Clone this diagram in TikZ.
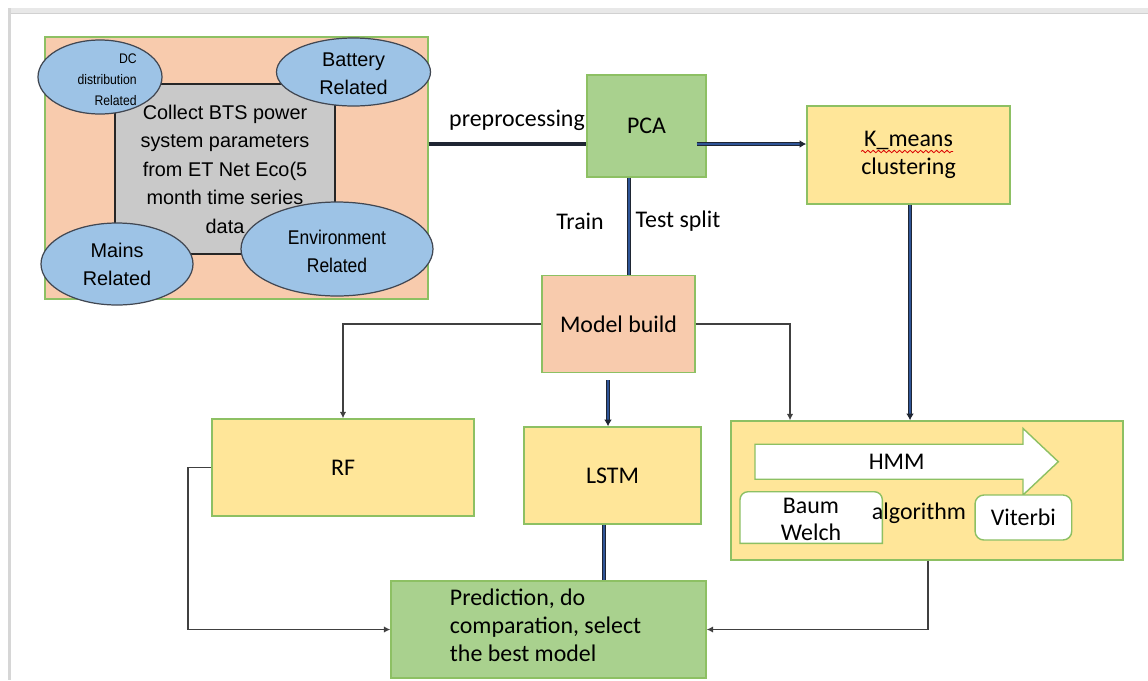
\documentclass[tikz,border=0pt]{standalone}
\usepackage{fontspec}
\setmainfont{Carlito}
\newfontfamily\arial{Liberation Sans}
\newfontfamily\arialn[FakeStretch=0.88]{Liberation Sans}
\usetikzlibrary{shapes.geometric,arrows.meta,calc,decorations.pathmorphing}
\def\pxu{0.02cm}

\definecolor{salmon}{HTML}{F8CBAD}
\definecolor{leaf}{HTML}{A9D18E}
\definecolor{sand}{HTML}{FFE699}
\definecolor{sky}{HTML}{9DC3E6}
\definecolor{edgegreen}{HTML}{8DC063}
\definecolor{stone}{HTML}{C9C9C9}
\definecolor{ink}{HTML}{1F2633}
\definecolor{navy}{HTML}{2F5597}

\tikzset{
  box/.style={draw=edgegreen, line width=0.8pt, inner sep=0pt, align=center,
    font=\fontsize{13.6}{16}\selectfont},
  size/.style n args={2}{minimum width=#1*\pxu, minimum height=#2*\pxu},
  bubble/.style={ellipse, draw=ink!85, fill=sky, line width=0.7pt, inner sep=0pt},
  bubble text/.style={inner sep=0pt, align=center, font=\arial\fontsize{11.3}{15.9}\selectfont},
  label text/.style={inner sep=0pt, font=\fontsize{13.6}{16}\selectfont},
  flowline/.style={draw=ink, double=navy, double distance=0.8pt, line width=0.7pt},
  darkline/.style={draw=ink, line width=2pt},
  wire/.style={draw=black!75, line width=0.8pt},
  tipsmall/.style={-{Latex[length=3.6pt,width=3.6pt]}},
  tipdark/.style={-{Latex[length=3.8pt,width=4.4pt]}},
}

\begin{document}
\begin{tikzpicture}[x=0.02cm, y=-0.02cm]
\useasboundingbox (0,0) rectangle (1148,680);
\fill[white] (0,0) rectangle (1148,680);

% page frame
\fill[black!9] (8,8) rectangle (1148,14);
\draw[black!18, line width=0.6pt] (8,13.5) -- (1148,13.5);
\fill[black!16] (8,8) rectangle (10.5,680);

% data source block
\node[box, fill=salmon, size={383}{262}] (src) at (236.5,168) {};
\node[draw=black!85, fill=stone, line width=0.8pt, inner sep=0pt, align=center,
      font=\arial\fontsize{11.3}{16.2}\selectfont, size={220}{170}] (collect) at (225,169)
      {Collect BTS power\\system parameters\\from ET Net Eco(5\\month time series\\data};
\node[bubble, size={124}{74}] (dc) at (100,77) {};
\node[inner sep=0pt, align=right, anchor=east, font=\arialn\fontsize{7.9}{11.9}\selectfont]
      (dctext) at (137,79.5) {DC\\distribution\\Related};
\node[bubble, size={154}{68}] (battery) at (353.5,72) {};
\node[bubble text] (batterytext) at (353.5,74) {Battery\\Related};
\node[bubble, size={152}{82}] (mains) at (117,264) {};
\node[bubble text] (mainstext) at (117,264.5) {Mains\\Related};
\node[bubble, size={192}{94}] (env) at (337,249) {};
\node[bubble text, font=\arialn\fontsize{11.3}{15.9}\selectfont] (envtext) at (337,251) {Environment\\Related};

% processing blocks
\node[box, fill=leaf, size={119}{102}] (pca) at (646.5,126) {PCA};
\node[box, fill=sand, size={203}{98}] (kmeans) at (908.5,155) {K\_means\\clustering};
\draw[red!85!black, line width=0.45pt, decorate,
      decoration={snake, amplitude=0.7pt, segment length=3pt}] (861,151.5) -- (953,151.5);
\node[box, fill=salmon, size={153}{97}] (build) at (618.5,324) {Model build};
\node[box, fill=sand, size={262}{97}] (rf) at (343,467.5) {RF};
\node[box, fill=sand, size={177}{97}] (lstm) at (612.5,475.5) {LSTM};
\node[box, fill=leaf, size={315}{97}] (pred) at (548.5,629.5) {};
\node[label text, anchor=west, align=left] (predtext) at (449.6,625)
      {Prediction, do\\comparation, select\\the best model};

% HMM block
\node[box, fill=sand, size={392}{139}] (hmm) at (927,490.5) {};
\path[draw=edgegreen, fill=white, line width=0.8pt]
  (755,444.2) -- (1023,444.2) -- (1023,428.4) -- (1058.3,461.7) -- (1023,495)
  -- (1023,479.2) -- (755,479.2) -- cycle;
\node[label text] (hmmtext) at (896.7,462) {HMM};
\path[draw=edgegreen, fill=white, line width=0.8pt]
  (740,543.3) -- (740,499.7) arc[start angle=180, end angle=270, radius=8]
  -- (874.3,491.7) arc[start angle=270, end angle=360, radius=8]
  -- (882.3,543.3) -- cycle;
\node[label text, align=center, font=\fontsize{13.6}{15.4}\selectfont] (baum) at (811,519.5) {Baum\\Welch};
\node[label text] (algo) at (919,513.3) {algorithm};
\node[box, fill=white, rounded corners=5pt, size={96.7}{45}] (viterbi) at (1023.4,517.5) {Viterbi};

% labels
\node[label text] (pre) at (517,120.5) {preprocessing};
\node[label text] (train) at (580,221.5) {Train};
\node[label text] (split) at (678,221.5) {Test split};

% connectors
\draw[darkline] (src.east |- 0,144) -- (pca.west |- 0,144);
\draw[flowline, tipdark] ($(pca.east |- 0,144)+(-10,0)$) -- (kmeans.west |- 0,144);
\draw[flowline] (pca.south -| 629,0) -- (build.north -| 629,0);
\draw[flowline, tipdark] (kmeans.south -| 910,0) -- (hmm.north -| 910,0);
\draw[flowline, tipdark, shorten <=4pt] (build.south -| 608,0) -- (lstm.north -| 608,0);
\draw[flowline] (lstm.south -| 604,0) -- (pred.north -| 604,0);
\draw[wire, tipsmall] (build.west) -| (rf.north);
\draw[wire, tipsmall] (build.east) -| (hmm.north -| 790,0);
\draw[wire, tipsmall] (rf.west) -- (188,0 |- rf.west) |- (pred.west);
\draw[wire, tipsmall] (hmm.south -| 928,0) |- (pred.east);
\end{tikzpicture}
\end{document}
